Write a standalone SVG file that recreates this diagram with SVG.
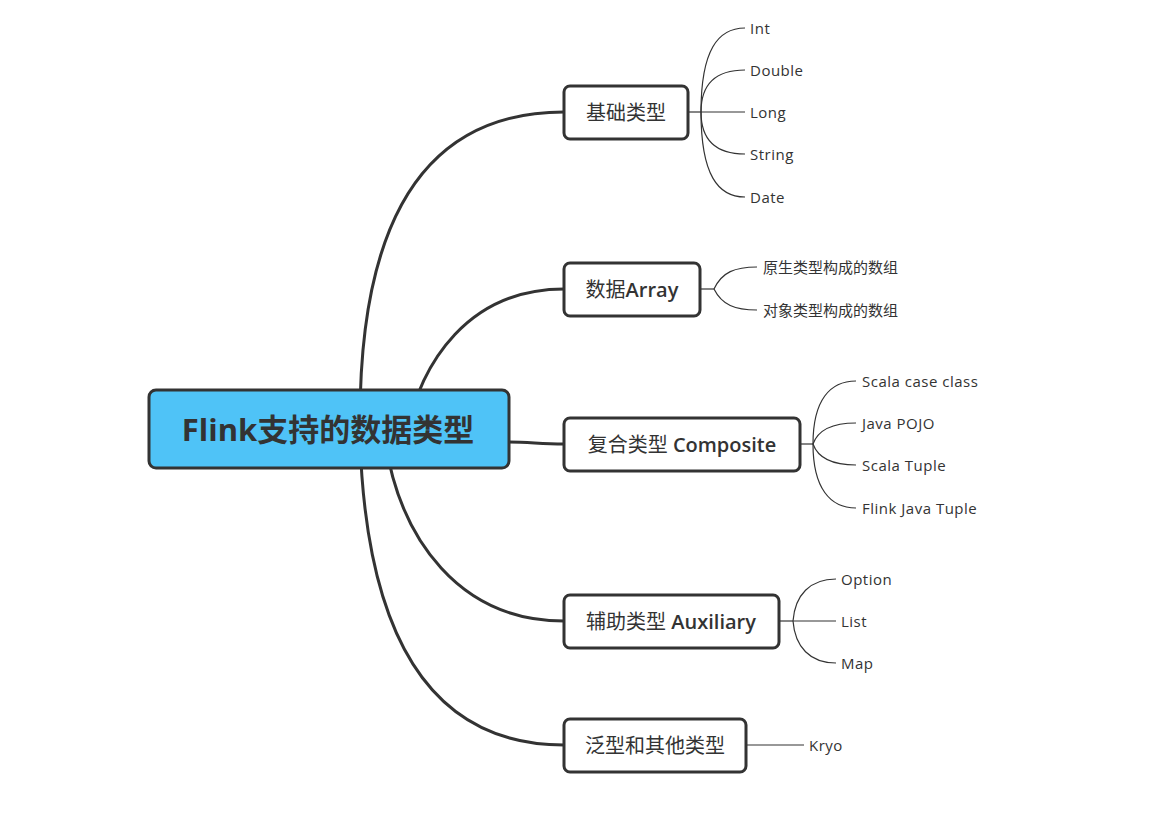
<svg xmlns="http://www.w3.org/2000/svg" width="1168" height="821" viewBox="0 0 1168 821">
<style>
.main{fill:none;stroke:#333;stroke-width:3;stroke-linecap:round}
.leafc{fill:none;stroke:#333;stroke-width:1.2}
.box{fill:#fff;stroke:#333;stroke-width:3}
.root{fill:#4fc3f7;stroke:#333;stroke-width:3}
.nt{font-family:"Open Sans","Noto Sans CJK SC",sans-serif;font-size:20px;fill:#333;dominant-baseline:central;text-anchor:middle}
.lt{font-family:"Open Sans","Noto Sans CJK SC",sans-serif;font-size:15px;fill:#333;dominant-baseline:central}
.la{letter-spacing:0.5px}
.rt{font-family:"Open Sans","Noto Sans CJK SC",sans-serif;font-size:31px;font-weight:bold;fill:#333;dominant-baseline:central;text-anchor:middle}
.b{font-weight:600}
</style>
<rect width="1168" height="821" fill="#fff"/>
<g id="connectors">
<path class="main" d="M 360 420 Q 360 112 564 112"/>
<path class="main" d="M 405 440 C 420 360, 470 289, 564 289"/>
<path class="main" d="M 509 442 C 530 442, 540 444, 564 444"/>
<path class="main" d="M 385 440 C 400 540, 460 621, 564 621"/>
<path class="main" d="M 360 440 Q 370 745 564 745"/>
<path class="leafc" d="M 688 112 L 701 112"/>
<path class="leafc" d="M 701 112 C 701 50, 718 28, 745 28"/>
<path class="leafc" d="M 701 112 C 701 82, 718 70, 745 70"/>
<path class="leafc" d="M 701 112 L 745 112"/>
<path class="leafc" d="M 701 112 C 701 142, 718 154, 745 154"/>
<path class="leafc" d="M 701 112 C 701 175, 718 197, 745 197"/>
<path class="leafc" d="M 700 289 L 714 289"/>
<path class="leafc" d="M 714 289 C 722 272, 735 267, 757 267"/>
<path class="leafc" d="M 714 289 C 722 305, 735 310, 757 310"/>
<path class="leafc" d="M 800 444 L 813 444"/>
<path class="leafc" d="M 813 444 C 813 400, 830 381, 856 381"/>
<path class="leafc" d="M 813 444 C 818 430, 832 423, 856 423"/>
<path class="leafc" d="M 813 444 C 818 458, 832 465, 856 465"/>
<path class="leafc" d="M 813 444 C 813 488, 830 508, 856 508"/>
<path class="leafc" d="M 779 621 L 793 621"/>
<path class="leafc" d="M 793 621 C 795 595, 810 579, 836 579"/>
<path class="leafc" d="M 793 621 L 836 621"/>
<path class="leafc" d="M 793 621 C 795 647, 810 663, 836 663"/>
<path class="leafc" d="M 746 745 L 804 745"/>
</g>
<g id="root">
<rect class="root" x="149" y="390" width="360" height="78" rx="7"/>
<text class="rt" x="328" y="429">Flink支持的数据类型</text>
</g>
<g id="n-basic">
<rect class="box" x="564" y="86" width="124" height="53" rx="6"/>
<text class="nt" x="626" y="112">基础类型</text>
</g>
<g id="n-array">
<rect class="box" x="564" y="263" width="136" height="53" rx="6"/>
<text class="nt" x="632" y="289">数据<tspan class="b">Array</tspan></text>
</g>
<g id="n-composite">
<rect class="box" x="564" y="418" width="236" height="53" rx="6"/>
<text class="nt" x="682" y="444">复合类型 <tspan class="b">Composite</tspan></text>
</g>
<g id="n-aux">
<rect class="box" x="564" y="595" width="215" height="53" rx="6"/>
<text class="nt" x="671" y="621">辅助类型 <tspan class="b">Auxiliary</tspan></text>
</g>
<g id="n-generic">
<rect class="box" x="564" y="719" width="182" height="53" rx="6"/>
<text class="nt" x="655" y="745">泛型和其他类型</text>
</g>
<g id="leaves">
<text class="lt la" x="750" y="28">Int</text>
<text class="lt la" x="750" y="70">Double</text>
<text class="lt la" x="750" y="112">Long</text>
<text class="lt la" x="750" y="154">String</text>
<text class="lt la" x="750" y="197">Date</text>
<text class="lt" x="763" y="267">原生类型构成的数组</text>
<text class="lt" x="763" y="310">对象类型构成的数组</text>
<text class="lt la" x="862" y="381">Scala case class</text>
<text class="lt la" x="862" y="423">Java POJO</text>
<text class="lt la" x="862" y="465">Scala Tuple</text>
<text class="lt la" x="862" y="508">Flink Java Tuple</text>
<text class="lt la" x="841" y="579">Option</text>
<text class="lt la" x="841" y="621">List</text>
<text class="lt la" x="841" y="663">Map</text>
<text class="lt la" x="809" y="745">Kryo</text>
</g>
</svg>
